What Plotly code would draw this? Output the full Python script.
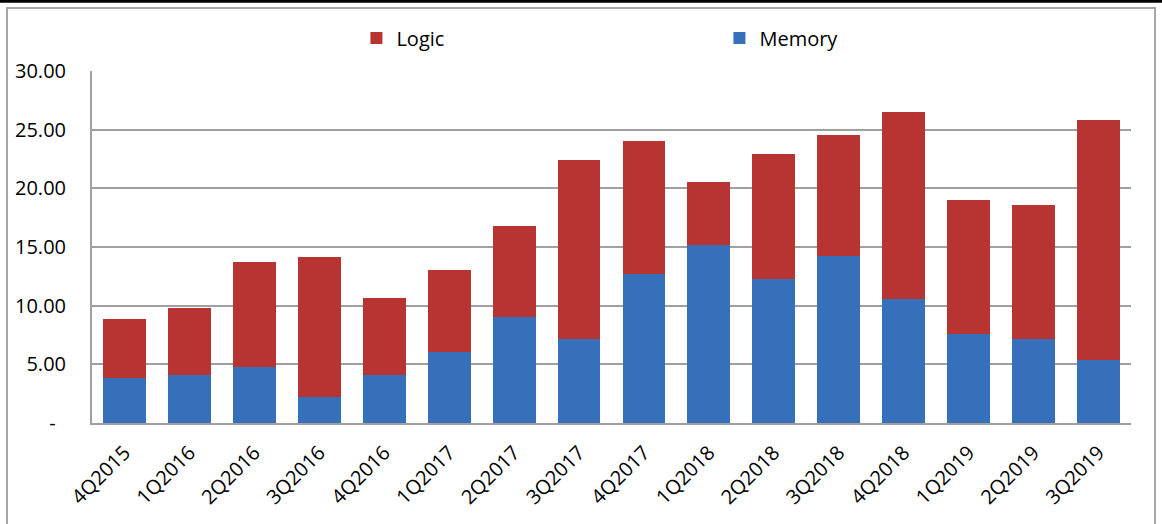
import plotly.graph_objects as go

# Quarterly values, stacked: Memory at the bottom, Logic on top
quarters = ["4Q2015", "1Q2016", "2Q2016", "3Q2016", "4Q2016", "1Q2017", "2Q2017", "3Q2017",
            "4Q2017", "1Q2018", "2Q2018", "3Q2018", "4Q2018", "1Q2019", "2Q2019", "3Q2019"]
memory = [3.86, 4.09, 4.77, 2.22, 4.09, 6.05, 9.01, 7.13,
          12.67, 15.15, 12.25, 14.21, 10.54, 7.56, 7.13, 5.34]
logic = [5.00, 5.71, 8.95, 11.93, 6.56, 6.96, 7.76, 15.26,
         11.34, 5.37, 10.65, 10.32, 15.94, 11.42, 11.43, 20.46]

y_ticks = [0, 5, 10, 15, 20, 25, 30]
y_ticktext = ["-\u00a0\u00a0", "5.00", "10.00", "15.00", "20.00", "25.00", "30.00"]

FONT = "Open Sans"
GRID = "#a0a0a0"

fig = go.Figure()
fig.add_trace(go.Bar(x=quarters, y=memory, name="Memory",
                     marker=dict(color="#3670ba", line=dict(width=0))))
fig.add_trace(go.Bar(x=quarters, y=logic, name="Logic",
                     marker=dict(color="#b73432", line=dict(width=0))))

fig.update_layout(
    width=1162, height=524,
    barmode="stack", bargap=0.34,
    margin=dict(l=92, r=31, t=71, b=101, autoexpand=False),
    plot_bgcolor="white", paper_bgcolor="white",
    font=dict(family=FONT, size=20, color="#000000"),
    showlegend=True,
    legend=dict(orientation="h", traceorder="reversed",
                x=0.2545, xanchor="left", y=1.0938, yanchor="middle",
                entrywidth=318, entrywidthmode="pixels",
                font=dict(family=FONT, size=20), bgcolor="rgba(0,0,0,0)"),
    xaxis=dict(type="category", tickangle=-45, showgrid=False, automargin=False,
               ticks="outside", ticklen=8, tickcolor="rgba(0,0,0,0)",
               showline=True, linecolor=GRID, linewidth=2,
               tickfont=dict(family=FONT, size=20)),
    yaxis=dict(range=[0, 30], tickvals=y_ticks, ticktext=y_ticktext, automargin=False,
               showgrid=True, gridcolor=GRID, gridwidth=2, zeroline=False,
               showline=True, linecolor=GRID, linewidth=2, ticks="",
               ticklabelstandoff=20, tickfont=dict(family=FONT, size=20)),
    shapes=[
        # outer chart frame
        dict(type="rect", xref="paper", yref="paper",
             x0=(7 - 92) / 1039, x1=(1155 - 92) / 1039,
             y0=(423 - 540) / 352, y1=(423 - 8) / 352,
             line=dict(color="#a6a6a6", width=2), fillcolor="rgba(0,0,0,0)", layer="below"),
        # heavy rule along the top edge
        dict(type="line", xref="paper", yref="paper",
             x0=-92 / 1039, x1=(1162 - 92) / 1039,
             y0=(423 - 1.3) / 352, y1=(423 - 1.3) / 352,
             line=dict(color="#000000", width=3)),
    ],
)

fig.write_html("out.html")
